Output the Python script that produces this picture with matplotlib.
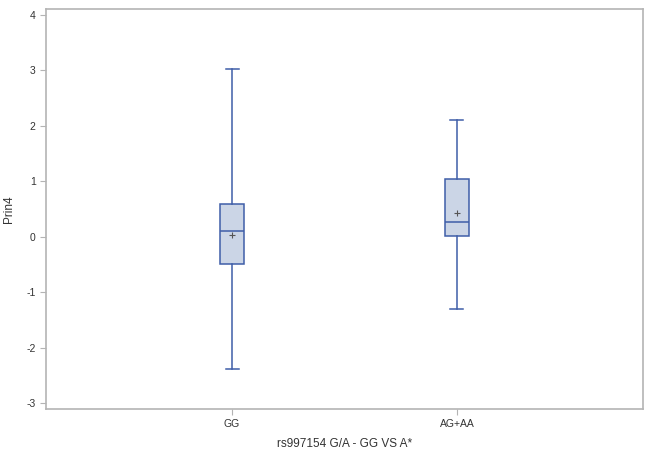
import matplotlib
matplotlib.use("Agg")
import matplotlib.pyplot as plt

plt.rcParams['font.family'] = ['Liberation Sans', 'DejaVu Sans']
plt.rcParams['axes.unicode_minus'] = False

categories = ["GG", "AG+AA"]
whislo = [-2.38, -1.30]
q1 = [-0.50, 0.02]
med = [0.11, 0.27]
q3 = [0.59, 1.05]
whishi = [3.03, 2.10]
means = [0.03, 0.42]
yticks = [-3, -2, -1, 0, 1, 2, 3, 4]

stats = []
for i, c in enumerate(categories):
    stats.append(dict(label=c, whislo=whislo[i], q1=q1[i], med=med[i],
                      q3=q3[i], whishi=whishi[i], mean=means[i], fliers=[]))

fig = plt.figure(figsize=(6.54, 4.55), dpi=100)
ax = fig.add_axes([46/654, 1 - 409/455, (643-46)/654, (409-9)/455])

edge = '#3f5ea8'
ax.bxp(stats, positions=[1, 2], widths=0.107, capwidths=0.058, showmeans=True,
       patch_artist=True,
       boxprops=dict(facecolor='#cbd5e6', edgecolor=edge, linewidth=1.1),
       whiskerprops=dict(color=edge, linewidth=1.1),
       capprops=dict(color=edge, linewidth=1.1),
       medianprops=dict(color=edge, linewidth=1.1),
       meanprops=dict(marker='+', markeredgecolor='#555555', markersize=5, markeredgewidth=0.8))

ax.set_xlim(0.173, 2.827)
ax.set_ylim(-3.11, 4.11)
ax.set_yticks(yticks)
ax.set_xticks([1, 2])
ax.set_xticklabels(categories)
for s in ax.spines.values():
    s.set_color('#b4b4b4')
    s.set_linewidth(1.2)
ax.tick_params(colors='#b4b4b4', labelcolor='#333333', labelsize=7.5, length=4, width=0.8)
ax.set_ylabel('Prin4', fontsize=8.5, color='#333333', labelpad=8)
ax.set_xlabel('rs997154 G/A - GG VS A*', fontsize=8.5, color='#333333', labelpad=6)

fig.savefig('out.png', dpi=100)
